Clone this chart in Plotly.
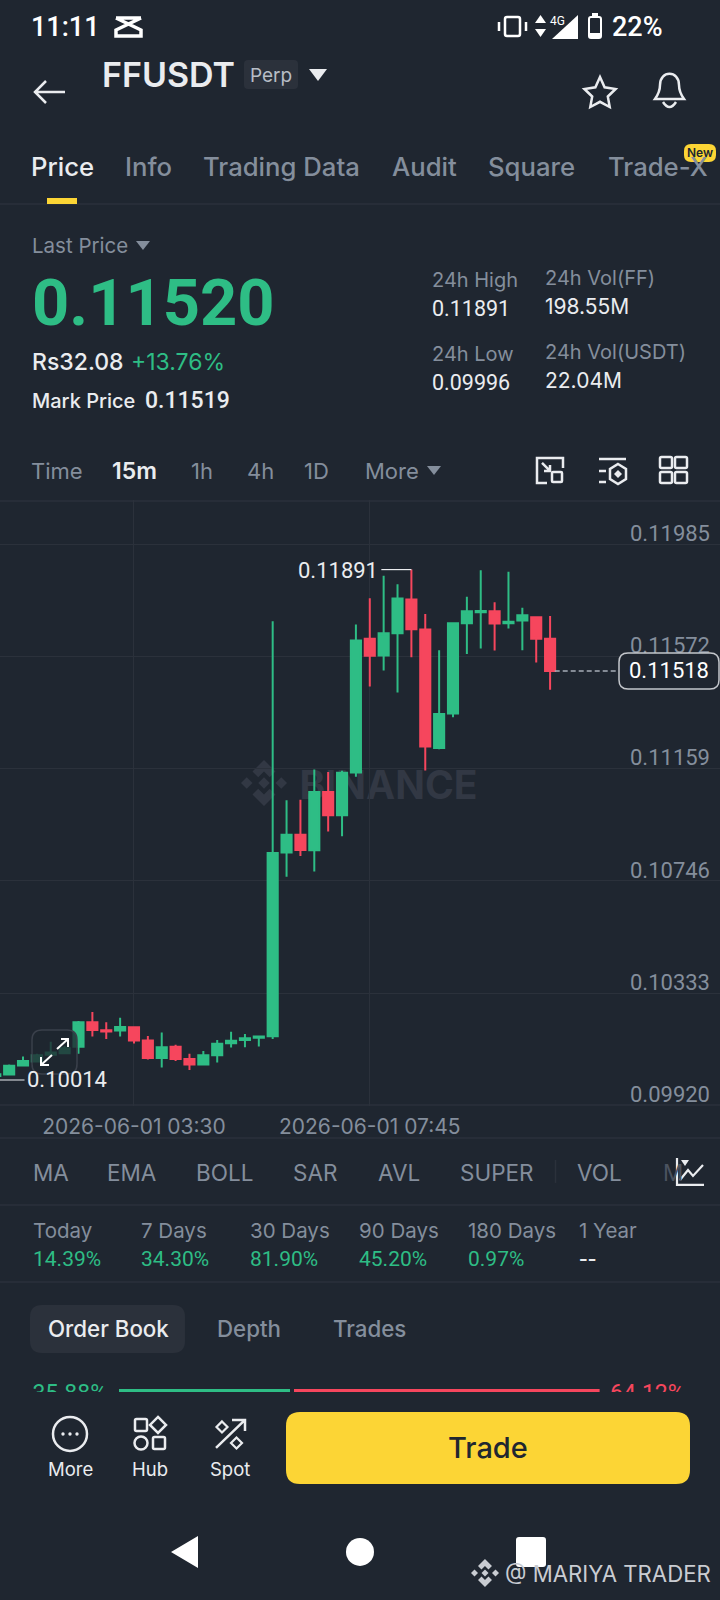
#!/usr/bin/env python3
"""Phone screenshot of the FFUSDT perp page: a 15m candlestick chart inside the app chrome."""
import pandas as pd
import plotly.graph_objects as go

W, H = 720, 1600
Y_SCALE = 1.0012  # small stretch so the lower part of the screen lands on the reference
BG = "#1f2630"
GRID = "#2b313b"
GREEN = "#2ebd85"
RED = "#f6465d"
YELLOW = "#fcd535"
TEXT = "#eaecef"
MUTED = "#848e9c"
FONT = "Inter"
NUM_FONT = "Roboto"

# 15m candles, first one sits off the left edge of the chart
START = "2026-06-01 00:45"
OPEN = [0.10022, 0.10029, 0.10034, 0.10067, 0.10082, 0.10107, 0.10112, 0.10136, 0.10226, 0.10197,
        0.10196, 0.10208, 0.10159, 0.10095, 0.10136, 0.10091, 0.10071, 0.10105, 0.10149, 0.10161,
        0.10169, 0.10175, 0.10851, 0.10916, 0.10859, 0.11073, 0.10988, 0.11145, 0.11637, 0.11575,
        0.11657, 0.11781, 0.11671, 0.11235, 0.11362, 0.11694, 0.11734, 0.11738, 0.11694, 0.11704,
        0.11716, 0.11637]
HIGH = [0.10030, 0.10037, 0.10071, 0.10100, 0.10110, 0.10155, 0.10139, 0.10231, 0.10264, 0.10226,
        0.10243, 0.10212, 0.10176, 0.10189, 0.10144, 0.10110, 0.10121, 0.10161, 0.10191, 0.10183,
        0.10175, 0.11701, 0.11043, 0.11045, 0.11156, 0.11147, 0.11151, 0.11689, 0.11786, 0.11868,
        0.11837, 0.11891, 0.11728, 0.11594, 0.11696, 0.11791, 0.11889, 0.11771, 0.11883, 0.11751,
        0.11717, 0.11720]
LOW = [0.10014, 0.10026, 0.10033, 0.10066, 0.10080, 0.10106, 0.10111, 0.10110, 0.10174, 0.10165,
       0.10174, 0.10148, 0.10089, 0.10060, 0.10084, 0.10051, 0.10069, 0.10078, 0.10133, 0.10134,
       0.10137, 0.10165, 0.10761, 0.10838, 0.10781, 0.10928, 0.10910, 0.11129, 0.11461, 0.11520,
       0.11439, 0.11569, 0.11152, 0.11230, 0.11348, 0.11581, 0.11601, 0.11593, 0.11674, 0.11594,
       0.11549, 0.11449]
CLOSE = [0.10026, 0.10035, 0.10066, 0.10084, 0.10105, 0.10115, 0.10131, 0.10226, 0.10198, 0.10192,
         0.10209, 0.10159, 0.10095, 0.10134, 0.10091, 0.10071, 0.10105, 0.10147, 0.10158, 0.10167,
         0.10174, 0.10849, 0.10916, 0.10860, 0.11073, 0.10988, 0.11144, 0.11630, 0.11574, 0.11657,
         0.11785, 0.11672, 0.11240, 0.11360, 0.11694, 0.11738, 0.11739, 0.11693, 0.11699, 0.11723,
         0.11637, 0.11518]

PRICE_TICKS = [0.11985, 0.11572, 0.11159, 0.10746, 0.10333, 0.09920]
TIME_TICKS = ["2026-06-01 03:30", "2026-06-01 07:45"]
HIGH_MARK = 0.11891
HIGH_TIME = "2026-06-01 08:30"
LOW_MARK = 0.10014
LAST_PRICE = 0.11518
LAST_TIME = "2026-06-01 11:00"

BUY_PCT = 35.88
SELL_PCT = 64.12

TAB_LABELS = ["Price", "Info", "Trading Data", "Audit", "Square", "Trade-X"]
TAB_X = [31, 125, 203, 393, 488, 608]
FRAME_LABELS = ["Time", "15m", "1h", "4h", "1D", "More"]
FRAME_X = [31, 112, 191, 247, 304, 365]
INDICATORS = ["MA", "EMA", "BOLL", "SAR", "AVL", "SUPER", "VOL"]
INDICATOR_X = [33, 107, 196, 293, 378, 461, 577]
PERIODS = ["Today", "7 Days", "30 Days", "90 Days", "180 Days", "1 Year"]
PERIOD_VALUES = ["14.39%", "34.30%", "81.90%", "45.20%", "0.97%", "--"]
PERIOD_X = [33, 141, 250, 359, 468, 579]
BOOK_TABS = ["Order Book", "Depth", "Trades"]
BOOK_X = [48, 217, 333]
DOCK_LABELS = ["More", "Hub", "Spot"]
DOCK_X = [70, 150, 230]
STATS = [("24h High", "0.11891", 432, 280), ("24h Low", "0.09996", 432, 354)]
VOLUMES = [("24h Vol(FF)", "198.55M", 545, 278), ("24h Vol(USDT)", "22.04M", 545, 352)]
DIVIDERS_Y = [204, 501, 1105, 1138, 1205, 1282]

# chart placement, in screen pixels
CHART_TOP, CHART_BOTTOM = 500.0, 1105.6
STRIP_TOP, STRIP_BOTTOM = 1380.0, 1392.0
PRICE_RANGE = [0.09920, 0.12147]
TIME_RANGE = ["2026-06-01 01:05:06", "2026-06-01 14:03:45"]
PCT_PER_PX = 1 / 4.766
PCT_LEFT = 119

shapes = []
annotations = []


def paper_y(y):
    return 1 - y * Y_SCALE / H


def label(text, x, y, size, color=TEXT, anchor="left", weight=400, family=FONT):
    if anchor == "left":
        x -= 1.5
    annotations.append(dict(
        text=text, x=x / W, y=paper_y(y), xref="paper", yref="paper",
        xanchor=anchor, yanchor="middle", showarrow=False, borderpad=0,
        font=dict(family=family, size=size, color=color, weight=weight),
    ))


def draw(d, line=None, width=2.5, fill=None, layer="above"):
    """Add an SVG path given in screen pixels (only M/L/Q/C/Z)."""
    out, is_x = [], True
    for tok in d.split():
        if tok.isalpha():
            out.append(tok)
        else:
            val = float(tok)
            out.append(f"{val / W:.5f}" if is_x else f"{paper_y(val):.5f}")
            is_x = not is_x
    shapes.append(dict(
        type="path", path=" ".join(out), xref="paper", yref="paper", layer=layer,
        line=dict(color=line or "rgba(0,0,0,0)", width=width if line else 0),
        fillcolor=fill or "rgba(0,0,0,0)",
    ))


def rounded(x0, y0, x1, y1, r, line=None, width=2, fill=None, layer="above"):
    draw(f"M {x0 + r} {y0} L {x1 - r} {y0} Q {x1} {y0} {x1} {y0 + r} L {x1} {y1 - r} "
         f"Q {x1} {y1} {x1 - r} {y1} L {x0 + r} {y1} Q {x0} {y1} {x0} {y1 - r} "
         f"L {x0} {y0 + r} Q {x0} {y0} {x0 + r} {y0} Z", line, width, fill, layer)


def circle(cx, cy, rx, ry=None, line=None, width=2.5, fill=None):
    ry = ry or rx
    shapes.append(dict(
        type="circle", xref="paper", yref="paper",
        x0=(cx - rx) / W, x1=(cx + rx) / W, y0=paper_y(cy + ry), y1=paper_y(cy - ry),
        line=dict(color=line or "rgba(0,0,0,0)", width=width if line else 0),
        fillcolor=fill or "rgba(0,0,0,0)",
    ))


def polygon(points, **style):
    head, *rest = points
    d = f"M {head[0]} {head[1]} " + " ".join(f"L {x} {y}" for x, y in rest) + " Z"
    draw(d, **style)


def diamond(cx, cy, r, **style):
    polygon([(cx, cy - r), (cx + r, cy), (cx, cy + r), (cx - r, cy)], **style)


def binance_logo(cx, cy, r, color, layer):
    unit = [
        [(0, -.25), (.25, 0), (0, .25), (-.25, 0)],
        [(-1, 0), (-.75, -.25), (-.5, 0), (-.75, .25)],
        [(1, 0), (.75, -.25), (.5, 0), (.75, .25)],
        [(0, -1), (.5, -.5), (.25, -.25), (0, -.5), (-.25, -.25), (-.5, -.5)],
        [(0, 1), (.5, .5), (.25, .25), (0, .5), (-.25, .25), (-.5, .5)],
    ]
    for part in unit:
        polygon([(round(cx + x * r, 2), round(cy + y * r, 2)) for x, y in part], fill=color, layer=layer)


# --- status bar and header ---
label("11:11", 31, 27, 27, "#ffffff", family=NUM_FONT, weight=500)
draw("M 116 18 L 141 18 M 116 18 L 141 30 L 141 36 L 116 36 L 116 30 L 141 18", "#ffffff", 3.5)
rounded(505, 17, 520, 36, 2, "#ffffff", 2.5)
draw("M 499 22 L 499 31 M 526 22 L 526 31", "#ffffff", 2.5)
polygon([(540.5, 15), (546, 23), (535, 23)], fill="#ffffff")
polygon([(535, 29), (546, 29), (540.5, 37)], fill="#ffffff")
label("4G", 550, 21, 12, "#ffffff", family=NUM_FONT)
polygon([(578, 15), (578, 39), (552, 39)], fill="#ffffff")
rounded(589, 17, 601, 38, 2, "#ffffff", 2)
polygon([(592, 13), (598, 13), (598, 17), (592, 17)], fill="#ffffff")
polygon([(589, 33), (601, 33), (601, 38), (589, 38)], fill="#ffffff")
label("22%", 612, 27, 27, "#ffffff", family=NUM_FONT, weight=500)

draw("M 65 92 L 35 92 M 46 81 L 35 92 L 46 103", TEXT, 2.5)
label("FFUSDT", 102, 75, 34, TEXT, weight=600)
rounded(244, 60, 298, 89, 4, fill="#2b313b")
label("Perp", 271, 76, 19, "#b7bdc6", anchor="center")
polygon([(309, 69), (327, 69), (318, 81)], fill=TEXT)
polygon([(600, 77), (604.6, 87.3), (615.6, 89), (607.8, 96.5), (609.7, 107), (600, 101.8), (590.3, 107),
         (592.2, 96.5), (584.4, 89), (595.4, 87.3)], line=TEXT, width=2.5)
draw("M 655 99 C 660 92 660 88 660 85 C 660 70 679 70 679 85 C 679 88 679 92 684 99 L 655 99 Z", TEXT, 2.5)
draw("M 663 102 Q 669.5 112 676 102", TEXT, 2.5)

for i, (tab, x) in enumerate(zip(TAB_LABELS, TAB_X)):
    label(tab, x, 167, 25.7, TEXT if i == 0 else MUTED, weight=500)
rounded(684, 144, 716, 162, 7, fill=YELLOW)
label("New", 700, 153, 12, "#202630", anchor="center", weight=600)
polygon([(47, 198), (77, 198), (77, 204), (47, 204)], fill=YELLOW)

for y in DIVIDERS_Y:
    draw(f"M 0 {y} L 720 {y}", GRID, 1.5, layer="below")

# --- price block ---
label("Last Price", 32, 246, 20.5, MUTED)
polygon([(136, 241), (150, 241), (143, 250)], fill=MUTED)
label("0.11520", 32, 303.5, 65, GREEN, weight=700, family=NUM_FONT)
label("Rs32.08", 32, 362, 23, TEXT, weight=500)
label("+13.76%", 131, 362, 23, GREEN)
label("Mark Price", 32, 401, 20, TEXT, weight=500)
label("0.11519", 145, 401, 23, TEXT, weight=500, family=NUM_FONT)
for name, value, x, y in STATS:
    label(name, x, y, 20, MUTED)
    label(value, x, y + 29, 21.5, TEXT, family=NUM_FONT)
for name, value, x, y in VOLUMES:
    label(name, x, y, 20, MUTED)
    label(value, x, y + 29, 21, TEXT)

for i, (frame, x) in enumerate(zip(FRAME_LABELS, FRAME_X)):
    label(frame, x, 471, 23 if i == 1 else 22, TEXT if i == 1 else MUTED, weight=600 if i == 1 else 400)
polygon([(427, 466), (441, 466), (434, 475)], fill=MUTED)

draw("M 547 483 L 537 483 L 537 458 L 563 458 L 563 468", TEXT, 2.5)
rounded(552, 472, 562, 482, 1, TEXT, 2.5)
draw("M 542 463 L 550 471 M 550 465 L 550 471 L 544 471", TEXT, 2.5)
draw("M 599 459 L 626 459 M 599 471 L 606 471 M 599 482 L 606 482", TEXT, 2.5)
polygon([(618, 464), (626, 469), (626, 479), (618, 484), (610, 479), (610, 469)], line=TEXT, width=2.5)
diamond(618, 474, 4, fill=TEXT)
for x0 in (660, 675):
    for y0 in (457, 472):
        rounded(x0, y0, x0 + 12, y0 + 11, 1.5, TEXT, 2.5)

# --- chart extras ---
binance_logo(264, 783, 23, "#323844", "below")
shapes.append(dict(
    type="rect", xref="paper", yref="paper", x0=295 / W, x1=482 / W, y0=paper_y(797), y1=paper_y(770),
    layer="below", line=dict(width=0), fillcolor="rgba(0,0,0,0)",
    label=dict(text="BINANCE", textposition="middle center",
               font=dict(family=FONT, size=39, color="#323844", weight=700)),
))

# high / low / last price call-outs follow the data through the axes
high_t = pd.Timestamp(HIGH_TIME)
shapes.append(dict(type="line", xref="x", yref="y", x0=high_t, y0=HIGH_MARK, line=dict(color=TEXT, width=1.2),
                   x1=high_t - pd.Timedelta(minutes=32.5), y1=HIGH_MARK))
annotations.append(dict(text=f"{HIGH_MARK:.5f}", x=high_t - pd.Timedelta(minutes=34), y=HIGH_MARK, xref="x", yref="y",
                        xanchor="right", yanchor="middle", yshift=-1, showarrow=False,
                        font=dict(family=NUM_FONT, size=22, color=TEXT)))
low_t = pd.Timestamp(START)
shapes.append(dict(type="line", xref="x", yref="y", x0=low_t, y0=LOW_MARK, line=dict(color=TEXT, width=1.2),
                   x1=pd.Timestamp(TIME_RANGE[0]) + pd.Timedelta(minutes=26.5), y1=LOW_MARK))
annotations.append(dict(text=f"{LOW_MARK:.5f}", x=pd.Timestamp(TIME_RANGE[0]) + pd.Timedelta(minutes=26.5), y=LOW_MARK,
                        xref="x", yref="y", xanchor="left", yanchor="middle", showarrow=False,
                        font=dict(family=NUM_FONT, size=22, color=TEXT)))
last_t = pd.Timestamp(LAST_TIME)
shapes.append(dict(type="line", xref="x", yref="y", x0=last_t + pd.Timedelta(minutes=5), y0=LAST_PRICE,
                   x1=pd.Timestamp(TIME_RANGE[1]) - pd.Timedelta(minutes=110), y1=LAST_PRICE,
                   line=dict(color="#a7adb6", width=1.5, dash="5px,3px")))
rounded(619, 653, 719, 689, 9, "#c4c7cc", 1.5, BG)
label(f"{LAST_PRICE:.5f}", 669, 671, 22, "#ffffff", anchor="center", family=NUM_FONT)

rounded(32, 1030, 77, 1074, 10, "#3a404b", 1.5, "rgba(31,38,48,0.78)")
draw("M 57 1049 L 68 1039 M 61 1039 L 68 1039 L 68 1047", "#ffffff", 2)
draw("M 52 1055 L 41 1065 M 41 1057 L 41 1065 L 49 1065", "#ffffff", 2)

# --- indicators, periods ---
for name, x in zip(INDICATORS, INDICATOR_X):
    label(name, x, 1173, 22.5, MUTED)
label("M", 663, 1173, 22.5, "#4b5360")
draw("M 555.5 1160 L 555.5 1183", GRID, 1.5)
draw("M 677 1158 L 677 1185 L 704 1185", TEXT, 2.2)
draw("M 680 1180 L 688 1170 L 693 1176 L 703 1165", TEXT, 2.2)
polygon([(681, 1160), (689, 1160), (685, 1166)], fill=TEXT)

for name, value, x in zip(PERIODS, PERIOD_VALUES, PERIOD_X):
    label(name, x, 1231, 20.5, MUTED)
    if value == "--":
        label(value, x, 1259, 24, TEXT, family="DejaVu Sans")
    else:
        label(value, x, 1259, 21, GREEN, family=NUM_FONT)

rounded(30, 1305, 185, 1353, 12, fill="#2b313b")
for i, (tab, x) in enumerate(zip(BOOK_TABS, BOOK_X)):
    label(tab, x, 1329, 22.3, TEXT if i == 0 else MUTED, weight=500)

# --- bottom dock ---
circle(70, 1434, 17, line=TEXT)
for x in (63, 70, 77):
    circle(x, 1434, 1.7, fill=TEXT)
rounded(135, 1419, 147, 1431, 1.5, TEXT, 2.5)
diamond(158, 1425, 8, line=TEXT, width=2.5)
circle(141, 1443, 6.5, line=TEXT)
rounded(153, 1437, 165, 1449, 1.5, TEXT, 2.5)
draw("M 216 1448 L 245 1420 M 232 1420 L 245 1420 L 245 1431", TEXT, 2.5)
diamond(222, 1427, 5.5, line=TEXT, width=2.2)
diamond(236.5, 1443, 5.5, line=TEXT, width=2.2)
for name, x in zip(DOCK_LABELS, DOCK_X):
    label(name, x, 1469, 18.5, TEXT, anchor="center")
rounded(286, 1412, 690, 1484, 14, fill=YELLOW)
label("Trade", 488, 1448, 29, "#202630", anchor="center", weight=500)

polygon([(171, 1552), (198, 1536), (198, 1568)], fill="#ffffff")
circle(360, 1552, 14, fill="#ffffff")
rounded(516, 1537, 546, 1567, 3, fill="#ffffff")
binance_logo(485, 1573, 14, "#c9ccd2", "above")
label("@ MARIYA TRADER", 505, 1574, 22.2, "#c9ccd2")

# --- figure ---
fig = go.Figure()
fig.add_trace(go.Candlestick(
    x=pd.date_range(START, periods=len(CLOSE), freq="15min"),
    open=OPEN, high=HIGH, low=LOW, close=CLOSE,
    increasing=dict(line=dict(color=GREEN, width=2), fillcolor=GREEN),
    decreasing=dict(line=dict(color=RED, width=2), fillcolor=RED),
    whiskerwidth=0, showlegend=False, hoverinfo="skip",
))

# buy/sell strip: the percentages are cut off by the dock below, so it gets its own clipped axes
fig.add_trace(go.Bar(y=[1390.5], x=[BUY_PCT], base=[0], width=3, orientation="h", marker=dict(color=GREEN, line=dict(width=0)),
                     xaxis="x2", yaxis="y2", showlegend=False, hoverinfo="skip"))
fig.add_trace(go.Bar(y=[1390.5], x=[SELL_PCT], base=[BUY_PCT + 4 * PCT_PER_PX], width=3, orientation="h",
                     marker=dict(color=RED, line=dict(width=0)), xaxis="x2", yaxis="y2", showlegend=False, hoverinfo="skip"))
fig.add_trace(go.Scatter(y=[1395], x=[-12 * PCT_PER_PX], text=[f"{BUY_PCT:.2f}%"], mode="text",
                         textposition="middle left", textfont=dict(family=NUM_FONT, size=23, color=GREEN),
                         xaxis="x2", yaxis="y2", showlegend=False, hoverinfo="skip"))
fig.add_trace(go.Scatter(y=[1395], x=[(610 - PCT_LEFT) * PCT_PER_PX], text=[f"{SELL_PCT:.2f}%"], mode="text",
                         textposition="middle right", textfont=dict(family=NUM_FONT, size=23, color=RED),
                         xaxis="x2", yaxis="y2", showlegend=False, hoverinfo="skip"))

fig.update_layout(
    width=W, height=H, margin=dict(l=0, r=0, t=0, b=0),
    paper_bgcolor=BG, plot_bgcolor=BG, showlegend=False,
    font=dict(family=FONT, color=MUTED),
    boxgap=0.27, boxgroupgap=0, barmode="overlay", dragmode=False,
    xaxis=dict(
        domain=[0, 1], range=TIME_RANGE, type="date", rangeslider=dict(visible=False),
        tickmode="array", tickvals=TIME_TICKS, ticktext=TIME_TICKS, ticks="",
        showgrid=True, gridcolor=GRID, gridwidth=1.2, zeroline=False, showline=False,
        tickfont=dict(family=FONT, size=21, color=MUTED), ticklabelstandoff=6,
    ),
    yaxis=dict(
        domain=[paper_y(CHART_BOTTOM), paper_y(CHART_TOP)], range=PRICE_RANGE, side="right", anchor="x",
        tickmode="array", tickvals=PRICE_TICKS, tickformat=".5f", ticks="",
        ticklabelposition="inside", ticklabelshift=-11, ticklabelstandoff=7, ticklabeloverflow="allow",
        showgrid=True, gridcolor=GRID, gridwidth=1.2, zeroline=False, showline=False,
        tickfont=dict(family=NUM_FONT, size=22, color=MUTED),
    ),
    xaxis2=dict(domain=[0, 1], range=[-PCT_LEFT * PCT_PER_PX, (W - PCT_LEFT) * PCT_PER_PX], visible=False, anchor="y2"),
    yaxis2=dict(domain=[paper_y(STRIP_BOTTOM), paper_y(STRIP_TOP)], range=[STRIP_BOTTOM, STRIP_TOP], visible=False, anchor="x2"),
    shapes=shapes, annotations=annotations,
)

# the default page keeps the browser's 8px body margin, which would push the phone screen off-centre
fig.write_html("out.html", config={"displayModeBar": False},
               post_script=f"document.body.style.margin='0';document.body.style.background='{BG}';")
